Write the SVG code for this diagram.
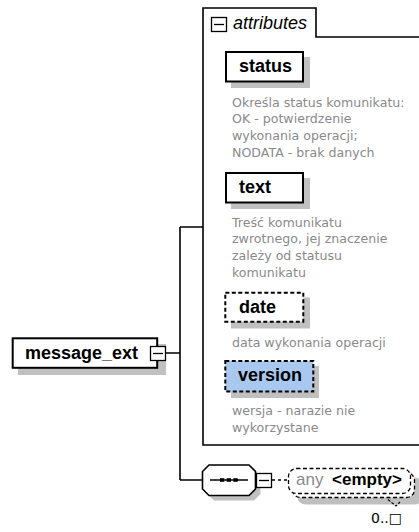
<svg xmlns="http://www.w3.org/2000/svg" width="419" height="532" viewBox="0 0 419 532">
<style>
.box{fill:#fff;stroke:#000;stroke-width:2}
.dbox{fill:#fff;stroke:#000;stroke-width:2;stroke-dasharray:4 2.5}
.shadow{fill:#c0c0c0;stroke:none}
.lbl{font-family:"Liberation Sans",Arial,sans-serif;font-size:18px;font-weight:bold;fill:#000}
.desc{font-family:"DejaVu Sans",Verdana,sans-serif;font-size:12.6px;fill:#8a8a8a}
.conn{fill:none;stroke:#000;stroke-width:1.6}
.minus{fill:#fff;stroke:#000;stroke-width:1.3}
.mline{stroke:#000;stroke-width:1.3}
</style>
<rect width="419" height="532" fill="#fff"/>
<g id="connectors">
<path class="conn" d="M166,353 H180 M180,227 V480 M180,227 H203 M180,480 H203"/>
<path class="conn" d="M272,480 H288" stroke-dasharray="3 3"/>
</g>
<g id="attributes">
<path fill="#fff" stroke="#000" stroke-width="1.6" d="M430,445 H203 V8 H316 V37 H430"/>
<rect class="minus" x="211.5" y="17.5" width="15" height="14"/>
<line class="mline" x1="214" y1="24.5" x2="224" y2="24.5"/>
<text x="233" y="29" font-family="Liberation Sans,Arial,sans-serif" font-size="18" font-style="italic" fill="#000">attributes</text>
</g>
<g id="status">
<rect class="shadow" x="231" y="57" width="79" height="31"/>
<rect class="box" x="226" y="52" width="77" height="29.5"/>
<text class="lbl" x="239" y="72">status</text>
<text class="desc" x="232" y="106.5">Określa status komunikatu:</text>
<text class="desc" x="232" y="123.2">OK - potwierdzenie</text>
<text class="desc" x="232" y="139.9">wykonania operacji;</text>
<text class="desc" x="232" y="156.6">NODATA - brak danych</text>
</g>
<g id="text">
<rect class="shadow" x="231" y="178" width="79" height="31"/>
<rect class="box" x="226" y="173" width="77" height="29.5"/>
<text class="lbl" x="239" y="192.5">text</text>
<text class="desc" x="232" y="226.7">Treść komunikatu</text>
<text class="desc" x="232" y="243.4">zwrotnego, jej znaczenie</text>
<text class="desc" x="232" y="260.1">zależy od statusu</text>
<text class="desc" x="232" y="276.8">komunikatu</text>
</g>
<g id="date">
<rect class="shadow" x="231" y="297.5" width="79" height="31"/>
<rect class="dbox" x="225.3" y="292.7" width="78" height="29"/>
<text class="lbl" x="239" y="312.5">date</text>
<text class="desc" x="232" y="346.7">data wykonania operacji</text>
</g>
<g id="version">
<rect class="shadow" x="231" y="366" width="88" height="32"/>
<rect class="dbox" x="225.3" y="361" width="88" height="30.5" style="fill:#a9c8f0"/>
<text class="lbl" x="238" y="381">version</text>
<text class="desc" x="232" y="415">wersja - narazie nie</text>
<text class="desc" x="232" y="431.7">wykorzystane</text>
</g>
<g id="message_ext">
<rect class="shadow" x="18" y="344" width="148" height="31"/>
<rect class="box" x="12.7" y="338.3" width="144.5" height="29.5"/>
<text class="lbl" x="25" y="358.5">message_ext</text>
<rect class="minus" x="150.5" y="346.5" width="15" height="14"/>
<line class="mline" x1="153" y1="353.5" x2="163" y2="353.5"/>
</g>
<g id="sequence">
<polygon class="shadow" points="214,470 254,470 260.5,476.5 260.5,494 254,500.5 214,500.5 207.5,494 207.5,476.5"/>
<polygon fill="#fff" stroke="#000" stroke-width="1.6" points="209,465 249,465 255.5,471.5 255.5,489 249,495.5 209,495.5 202.5,489 202.5,471.5"/>
<line x1="210" y1="480" x2="248" y2="480" stroke="#000" stroke-width="1.5"/>
<rect x="220" y="478.2" width="4.3" height="3.6" fill="#000"/>
<rect x="226.7" y="478.2" width="4.3" height="3.6" fill="#000"/>
<rect x="233.4" y="478.2" width="4.3" height="3.6" fill="#000"/>
<rect class="minus" x="256.5" y="473.5" width="15" height="14"/>
<line class="mline" x1="259" y1="480.5" x2="269" y2="480.5"/>
</g>
<g id="any">
<rect class="shadow" x="297.5" y="477.5" width="125" height="27" rx="8"/>
<rect x="292.5" y="472.5" width="122" height="25" rx="8" fill="#fff" stroke="#000" stroke-width="1.3" stroke-dasharray="4 2.5"/>
<rect x="288.5" y="468.5" width="122" height="25" rx="8" fill="#fff" stroke="#000" stroke-width="1.3" stroke-dasharray="4 2.5"/>
<polyline points="388,499.5 396,506 400,502" fill="none" stroke="#000" stroke-width="1.1" stroke-dasharray="3 1.5"/>
<text x="296" y="485" font-family="Liberation Sans,Arial,sans-serif" font-size="17" fill="#8a8a8a">any</text>
<text x="332" y="485" font-family="Liberation Sans,Arial,sans-serif" font-size="17" font-weight="bold" fill="#000">&lt;empty&gt;</text>
<text x="371" y="523" font-family="DejaVu Sans,Verdana,sans-serif" font-size="14" fill="#000">0..□</text>
</g>
</svg>
